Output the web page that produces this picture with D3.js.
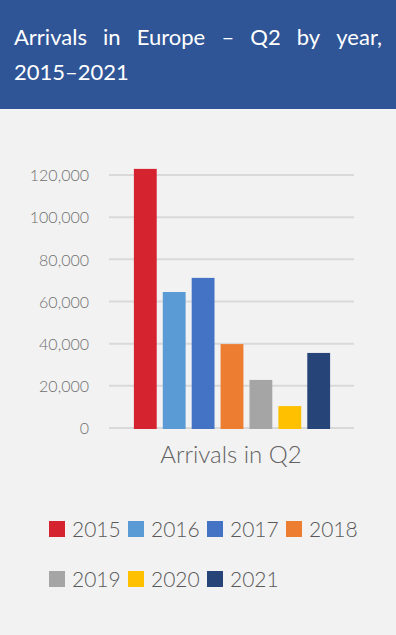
<!DOCTYPE html>
<html>
<head>
<meta charset="utf-8">
<script src="https://cdn.jsdelivr.net/npm/d3@7"></script>
<style>
  html, body { margin: 0; padding: 0; background: #f2f2f2; }
  svg { display: block; font-family: Lato, "Open Sans", sans-serif; }
</style>
</head>
<body>
<svg id="chart" width="396" height="635"></svg>
<script>
const years = ["2015", "2016", "2017", "2018", "2019", "2020", "2021"];
const arrivals = [122900, 64500, 71200, 39800, 22800, 10400, 35600];
const colors = ["#d52430", "#5b9bd5", "#4472c4", "#ed7d31", "#a5a5a5", "#ffc000", "#264478"];
const yTicks = [0, 20000, 40000, 60000, 80000, 100000, 120000];
const titleLines = [["Arrivals", "in", "Europe", "–", "Q2", "by", "year,"], ["2015–2021"]];
const categoryLabel = "Arrivals in Q2";

const width = 396, height = 635;
const svg = d3.select("#chart");

svg.append("rect").attr("width", width).attr("height", height).attr("fill", "#f2f2f2");
svg.append("rect").attr("width", width).attr("height", 109).attr("fill", "#2f5597");

// title, first line justified across the box
const titleLeft = 14, titleRight = 382;
titleLines.forEach((words, i) => {
    const y = 45 + i * 35;
    const nodes = words.map(w => svg.append("text")
        .attr("y", y)
        .attr("fill", "#fff")
        .attr("font-size", 22)
        .text(w));
    if (i === 0 && words.length > 1) {
        const widths = nodes.map(n => n.node().getComputedTextLength());
        const gap = (titleRight - titleLeft - d3.sum(widths)) / (words.length - 1);
        let x = titleLeft;
        nodes.forEach((n, j) => { n.attr("x", x); x += widths[j] + gap; });
    } else {
        nodes.forEach(n => n.attr("x", titleLeft));
    }
});

// plot
const plot = { left: 109, right: 354, top: 175, bottom: 428 };
const y = d3.scaleLinear().domain([0, 120000]).range([plot.bottom, plot.top]);
const x = d3.scaleBand().domain(years).range([131, 333]).paddingInner(0.21).paddingOuter(0.1);

svg.append("g")
    .selectAll("line")
    .data(yTicks)
    .join("line")
    .attr("x1", plot.left)
    .attr("x2", plot.right)
    .attr("y1", d => y(d))
    .attr("y2", d => y(d))
    .attr("stroke", "#d9d9d9")
    .attr("stroke-width", 2);

const yAxis = svg.append("g")
    .attr("transform", `translate(${plot.left - 20},0)`)
    .call(d3.axisLeft(y).tickValues(yTicks).tickSize(0).tickFormat(d3.format(",")));
yAxis.select(".domain").remove();
yAxis.selectAll("text")
    .attr("x", 0)
    .attr("dy", "0.36em")
    .attr("fill", "#6f6f6f")
    .attr("font-size", 16)
    .attr("font-weight", 300)
    .attr("font-family", "Lato, sans-serif");

svg.append("g")
    .selectAll("rect")
    .data(years)
    .join("rect")
    .attr("x", d => x(d))
    .attr("width", x.bandwidth())
    .attr("y", (d, i) => y(arrivals[i]))
    .attr("height", (d, i) => y(0) - y(arrivals[i]) + 1)
    .attr("fill", (d, i) => colors[i]);

svg.append("text")
    .attr("x", 231)
    .attr("y", 463)
    .attr("text-anchor", "middle")
    .attr("fill", "#626262")
    .attr("font-size", 24)
    .attr("font-weight", 300)
    .text(categoryLabel);

// legend, 4 per row
const legend = svg.append("g")
    .selectAll("g")
    .data(years)
    .join("g")
    .attr("transform", (d, i) => `translate(${49 + (i % 4) * 79},${521 + Math.floor(i / 4) * 50})`);
legend.append("rect")
    .attr("width", 16)
    .attr("height", 16)
    .attr("fill", (d, i) => colors[i]);
legend.append("text")
    .attr("x", 23)
    .attr("y", 15.5)
    .attr("fill", "#5a5a5a")
    .attr("font-size", 21)
    .attr("font-weight", 300)
    .text(d => d);
</script>
</body>
</html>
